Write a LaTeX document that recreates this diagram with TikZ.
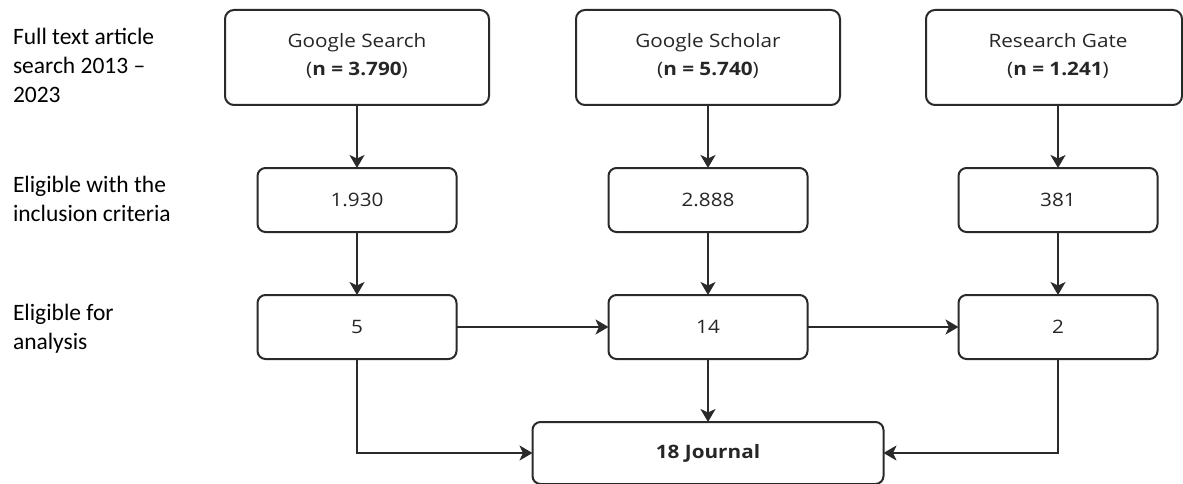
\documentclass[tikz,border=0pt]{standalone}
\usepackage{fontspec}
\setmainfont{Carlito}
\newfontfamily\boxfont[FakeStretch=1.12]{Open Sans}
\usetikzlibrary{arrows.meta}
\definecolor{ln}{HTML}{2A2A2A}
\begin{document}
\begin{tikzpicture}[x=1pt,y=-1pt,
  every node/.style={inner sep=0pt, outer sep=0pt},
  bx/.style={draw=ln, line width=2pt, rounded corners=9pt, align=center,
     font=\boxfont\fontsize{18.5}{28}\selectfont, text=black!85},
  topbox/.style={bx, minimum height=95pt},
  midbox/.style={bx, minimum width=199pt, minimum height=64pt, rounded corners=8pt},
  lab/.style={anchor=west, align=left, font=\fontsize{23.5}{29}\selectfont},
  arr/.style={draw=ln, line width=2pt, -{Stealth[length=13pt,width=15pt,inset=3.5pt]}}]
\useasboundingbox (0,0) rectangle (1183,484);

% left labels
\node[lab] (l1) at (13,65) {Full text article\\search 2013 –\\2023};
\node[lab] (l2) at (13,199) {Eligible with the\\inclusion criteria};
\node[lab] (l3) at (13,329) {Eligible for\\analysis};

% top row
\node[topbox, minimum width=264pt] (gs1) at (357,57.5) {Google Search\\(\textbf{n = 3.790})\rule[-7pt]{0pt}{1pt}};
\node[topbox, minimum width=264pt] (gsc1) at (708,57.5) {Google Scholar\\(\textbf{n = 5.740})\rule[-7pt]{0pt}{1pt}};
\node[topbox, minimum width=256pt] (rg1) at (1054,57.5) {\hspace*{8pt}Research Gate\\\hspace*{8pt}(\textbf{n = 1.241})\rule[-7pt]{0pt}{1pt}};

% second row
\node[midbox] (gs2) at (357,200) {1.930};
\node[midbox] (gsc2) at (708,200) {2.888};
\node[midbox] (rg2) at (1058,200) {381};

% third row
\node[midbox] (gs3) at (357,327) {5};
\node[midbox] (gsc3) at (708,327) {14};
\node[midbox] (rg3) at (1058,327) {2};

% final
\node[bx, minimum width=351pt, minimum height=62pt, rounded corners=8pt] (jr) at (708,453) {\textbf{18 Journal}};

% arrows
\draw[arr] (gs2.north |- gs1.south) -- (gs2.north);
\draw[arr] (gsc2.north |- gsc1.south) -- (gsc2.north);
\draw[arr] (rg2.north |- rg1.south) -- (rg2.north);
\draw[arr] (gs2) -- (gs3);
\draw[arr] (gsc2) -- (gsc3);
\draw[arr] (rg2) -- (rg3);
\draw[arr] (gs3) -- (gsc3);
\draw[arr] (gsc3) -- (rg3);
\draw[arr] (gsc3) -- (jr);
\draw[arr] (gs3.south) |- (jr.west);
\draw[arr] (rg3.south) |- (jr.east);
\end{tikzpicture}
\end{document}
